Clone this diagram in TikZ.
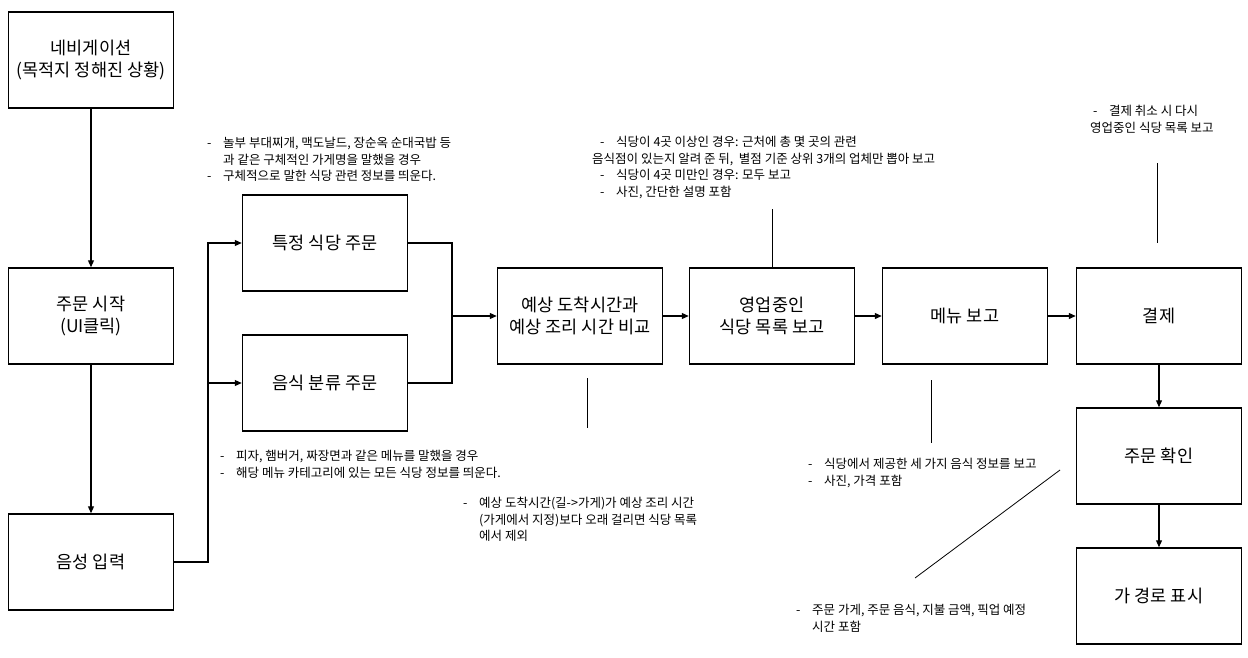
\documentclass[tikz,border=0pt]{standalone}
\usepackage{fontspec}
\setmainfont{Noto Sans CJK KR}
\usetikzlibrary{arrows.meta}
\newcommand\itm{\makebox[16pt][l]{-}}
\newcommand\gap{\hspace*{16pt}}

\begin{document}
\begin{tikzpicture}[x=1pt, y=-1pt,
  box/.style={draw, line width=1.5pt, minimum width=165pt, minimum height=96pt,
    align=center, font=\fontsize{17.5}{22}\selectfont},
  flow/.style={-{Triangle[length=7pt,width=6pt]}, line width=1.2pt},
  note/.style={align=left, anchor=north west, inner sep=0pt,
    font=\fontsize{12.5}{16.5}\selectfont},
  lead/.style={line width=0.8pt}]
  \useasboundingbox (0,0) rectangle (1248,657);
  % boxes
  \node[box] (nav) at (91,60) {네비게이션\\(목적지 정해진 상황)};
  \node[box] (start) at (91,316) {주문 시작\\(UI클릭)};
  \node[box] (voice) at (91,562) {음성 입력};
  \node[box] (shop) at (325,243) {특정 식당 주문};
  \node[box] (cat) at (325,383) {음식 분류 주문};
  \node[box] (cmp) at (580,316) {예상 도착시간과\\예상 조리 시간 비교};
  \node[box] (open) at (772,316) {영업중인\\식당 목록 보고};
  \node[box] (menu) at (965,316) {메뉴 보고};
  \node[box] (pay) at (1159,316) {결제};
  \node[box] (chk) at (1159,456) {주문 확인};
  \node[box] (route) at (1159,596) {가 경로 표시};
  % flow
  \coordinate (fork) at (208,0);
  \coordinate (join) at (452,0);
  \draw[flow] (nav) -- (start);
  \draw[flow] (start) -- (voice);
  \draw[flow] (voice.east) -- (voice.east -| fork) |- (shop.west);
  \draw[flow] (fork |- cat.west) -- (cat.west);
  \draw[line width=1.2pt] (shop.east) -- (shop.east -| join) -- (cat.east -| join) -- (cat.east);
  \draw[flow] (join |- cmp.west) -- (cmp.west);
  \draw[flow] (cmp) -- (open);
  \draw[flow] (open) -- (menu);
  \draw[flow] (menu) -- (pay);
  \draw[flow] (pay) -- (chk);
  \draw[flow] (chk) -- (route);
  % notes
  \node[note] (shopnote) at (207,137)
    {\itm 놀부 부대찌개, 맥도날드, 장순옥 순대국밥 등\\
     \gap 과 같은 구체적인 가게명을 말했을 경우\\
     \itm 구체적으로 말한 식당 관련 정보를 띄운다.};
  \node[note] (opennote) at (592,136)
    {\hspace*{8pt}\itm 식당이 4곳 이상인 경우: 근처에 총 몇 곳의 관련\\
     음식점이 있는지 알려 준 뒤,\ \ 별점 기준 상위 3개의 업체만 뽑아 보고\\
     \hspace*{8pt}\itm 식당이 4곳 미만인 경우: 모두 보고\\
     \hspace*{8pt}\itm 사진, 간단한 설명 포함};
  \node[note] (paynote) at (1090,105)
    {\hspace*{3pt}\itm 결제 취소 시 다시\\영업중인 식당 목록 보고};
  \node[note] (catnote) at (220,450)
    {\itm 피자, 햄버거, 짜장면과 같은 메뉴를 말했을 경우\\
     \itm 해당 메뉴 카테고리에 있는 모든 식당 정보를 띄운다.};
  \node[note] (cmpnote) at (463,497)
    {\itm 예상 도착시간(길->가게)가 예상 조리 시간\\
     \gap (가게에서 지정)보다 오래 걸리면 식당 목록\\
     \gap 에서 제외};
  \node[note] (menunote) at (808,458)
    {\itm 식당에서 제공한 세 가지 음식 정보를 보고\\
     \itm 사진, 가격 포함};
  \node[note] (chknote) at (796,604)
    {\itm 주문 가게, 주문 음식, 지불 금액, 픽업 예정\\
     \gap 시간 포함};
  % leader lines
  \draw[lead] (open.north) -- ++(0,-58);
  \draw[lead] (587,378) -- (587,428);
  \draw[lead] (931,380) -- (931,443);
  \draw[lead] (1157,163) -- (1157,243);
  \draw[lead] (1060,470) -- (915,578);
\end{tikzpicture}
\end{document}
